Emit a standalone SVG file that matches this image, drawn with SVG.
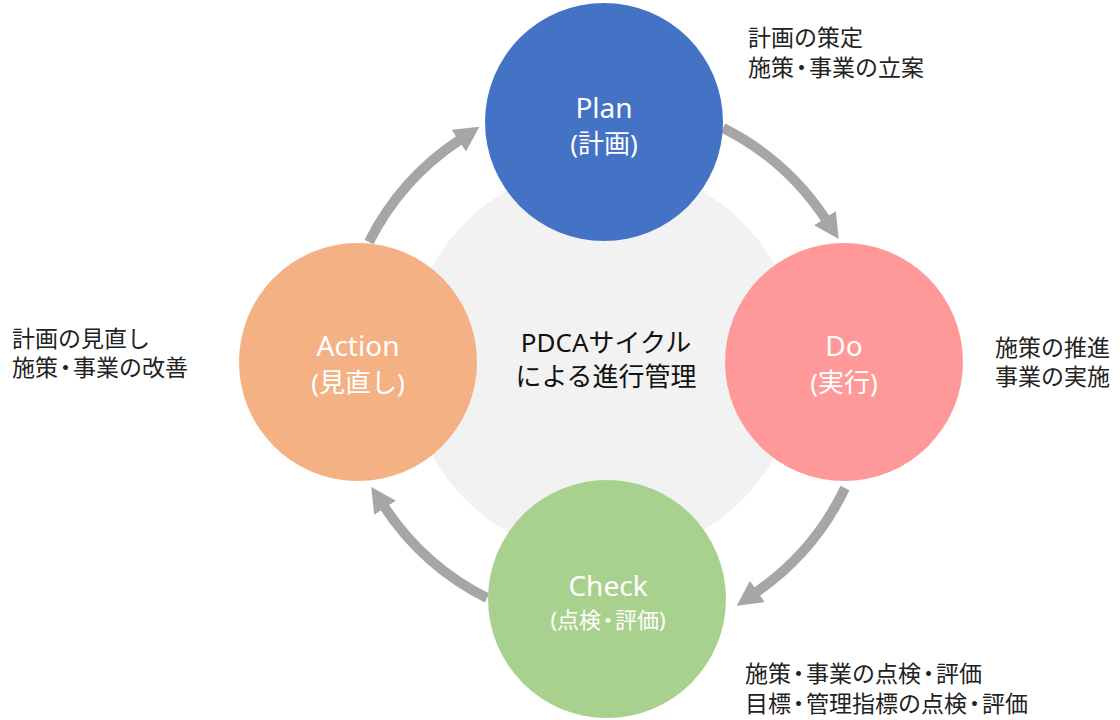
<svg xmlns="http://www.w3.org/2000/svg" width="1120" height="720" viewBox="0 0 1120 720">
  <style>
    .node-title { font-family: "Noto Sans", "Noto Sans CJK JP", sans-serif; font-size: 28px; fill: #ffffff; text-anchor: middle; }
    .node-sub { font-family: "Noto Sans", "Noto Sans CJK JP", sans-serif; font-size: 26px; fill: #ffffff; text-anchor: middle; }
    .center-text { font-family: "Noto Sans", "Noto Sans CJK JP", sans-serif; font-size: 26px; fill: #111111; text-anchor: middle; }
    .note { font-family: "Noto Sans CJK JP", sans-serif; font-size: 23px; fill: #222222; }
    .arrow { fill: none; stroke: #a6a6a6; stroke-width: 10; marker-end: url(#head); }
  </style>
  <defs>
    <marker id="head" markerUnits="userSpaceOnUse" markerWidth="26" markerHeight="28" refX="1" refY="13" orient="auto">
      <polygon points="0,0 25,13 0,26" fill="#a6a6a6"/>
    </marker>
  </defs>
  <rect width="1120" height="720" fill="#ffffff"/>

  <g id="center">
    <circle cx="604" cy="361" r="196" fill="#f2f2f2"/>
    <text class="center-text" x="606" y="352">PDCAサイクル</text>
    <text class="center-text" x="606" y="386">による進行管理</text>
  </g>

  <g id="connectors">
    <path class="arrow" d="M723,128 A265,265 0 0 1 825.5,219"/>
    <path class="arrow" d="M845,488 A265,265 0 0 1 756.5,592"/>
    <path class="arrow" d="M487,598 A265,265 0 0 1 384.5,507"/>
    <path class="arrow" d="M369,242 A265,265 0 0 1 459.5,140"/>
  </g>

  <g id="plan">
    <circle cx="604" cy="122" r="119" fill="#4472c4"/>
    <text class="node-title" x="604" y="118">Plan</text>
    <text class="node-sub" x="604" y="153">(計画)</text>
  </g>

  <g id="do">
    <circle cx="844" cy="362" r="119" fill="#ff9999"/>
    <text class="node-title" x="844" y="356">Do</text>
    <text class="node-sub" x="844" y="392">(実行)</text>
  </g>

  <g id="check">
    <circle cx="607" cy="599" r="119" fill="#a9d18e"/>
    <text class="node-title" x="608" y="596">Check</text>
    <text class="node-sub" x="608" y="628" style="font-size:22px">(点検<tspan dx="-4">・</tspan><tspan dx="-4">評価)</tspan></text>
  </g>

  <g id="action">
    <circle cx="358" cy="362" r="119" fill="#f4b183"/>
    <text class="node-title" x="358" y="356">Action</text>
    <text class="node-sub" x="358" y="392">(見直し)</text>
  </g>

  <g id="note-plan">
    <text class="note" x="748" y="46">計画の策定</text>
    <text class="note" x="748" y="76">施策<tspan dx="-4">・</tspan><tspan dx="-4">事業の立案</tspan></text>
  </g>
  <g id="note-do">
    <text class="note" x="995" y="356">施策の推進</text>
    <text class="note" x="995" y="385">事業の実施</text>
  </g>
  <g id="note-check">
    <text class="note" x="745" y="682">施策<tspan dx="-4">・</tspan><tspan dx="-4">事業の点検</tspan><tspan dx="-4">・</tspan><tspan dx="-4">評価</tspan></text>
    <text class="note" x="745" y="712">目標<tspan dx="-4">・</tspan><tspan dx="-4">管理指標の点検</tspan><tspan dx="-4">・</tspan><tspan dx="-4">評価</tspan></text>
  </g>
  <g id="note-action">
    <text class="note" x="12" y="347">計画の見直し</text>
    <text class="note" x="12" y="376">施策<tspan dx="-4">・</tspan><tspan dx="-4">事業の改善</tspan></text>
  </g>
</svg>
